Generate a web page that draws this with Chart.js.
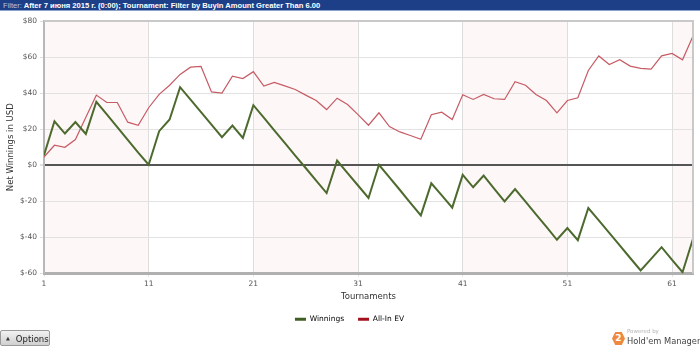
<!DOCTYPE html>
<html>
<head>
<meta charset="utf-8">
<script src="https://cdn.jsdelivr.net/npm/chart.js@4.4.0/dist/chart.umd.min.js"></script>
<style>
	html, body { margin: 0; padding: 0; background: #fff; }
	body { width: 700px; height: 347px; position: relative; overflow: hidden; font-family: "DejaVu Sans", Verdana, sans-serif; }
	#filterbar {
		position: absolute; left: 0; top: 0; width: 700px; height: 11px;
		background: #1c3f88; border-bottom: 1px solid #8ea3cc;
		color: #fff; font: bold 7.6px/11px "Liberation Sans Narrow", "Liberation Sans", sans-serif; white-space: nowrap;
		padding-left: 3px; box-sizing: border-box; z-index: 2;
	}
	#filterbar span { color: #b9c6e2; font-weight: normal; }
	#chartbox { position: absolute; left: 0; top: 0; width: 700px; height: 347px; }
	#options {
		position: absolute; left: 0; top: 330px; width: 50px; height: 16px;
		box-sizing: border-box; border: 1px solid #9a9a9a; border-radius: 2px;
		background: linear-gradient(#f2f2f2, #cfcfcf);
		font-size: 8.5px; line-height: 14px; color: #222; padding-left: 5px;
	}
	#options b { font-size: 5px; vertical-align: 2px; margin-right: 6px; color: #333; }
	#hm { position: absolute; left: 612px; top: 328px; width: 88px; height: 19px; }
	#hm .hex {
		position: absolute; left: 0; top: 4px; width: 13px; height: 13px;
		background: #ee8a3f; color: #fff; font: bold 9px/13px "DejaVu Sans", sans-serif; text-align: center;
		clip-path: polygon(25% 0, 75% 0, 100% 50%, 75% 100%, 25% 100%, 0 50%);
	}
	#hm .pw { position: absolute; left: 15px; top: 0; font-size: 5.5px; color: #b5b5b5; }
	#hm .nm { position: absolute; left: 15px; top: 8px; font-size: 8.3px; color: #444; white-space: nowrap; }
</style>
</head>
<body>
<div id="filterbar"><span>Filter:</span> After 7 июня 2015 г. (0:00); Tournament: Filter by Buyin Amount Greater Than 6.00</div>
<div id="chartbox"><canvas id="NetChart" width="700" height="347"></canvas></div>
<div id="options"><b>&#9650;</b>Options</div>
<div id="hm"><div class="hex">2</div><div class="pw">Powered by</div><div class="nm">Hold'em Manager</div></div>

<script>

// tournament numbers along the x axis
const tournaments = Array.from({ length: 63 }, (_, i) => i + 1);
const xTicks = [1, 11, 21, 31, 41, 51, 61];
const yTicks = [-60, -40, -20, 0, 20, 40, 60, 80];

// net winnings in USD after each tournament
const winnings = [
	5.6, 24.4, 17.6, 24.0, 17.4, 35.2, 28.2, 21.2, 14.1, 7.0,
	0.3, 18.9, 25.4, 43.3, 36.4, 29.5, 22.5, 15.6, 22.0, 15.2,
	33.3, 26.4, 19.4, 12.4, 5.4, -1.5, -8.5, -15.4, 2.6, -4.3,
	-11.2, -18.1, 0.3, -6.7, -13.7, -20.8, -27.8, -10.0, -16.7, -23.5,
	-5.3, -12.2, -5.7, -12.9, -20.0, -13.2, -20.2, -27.2, -34.2, -41.3,
	-34.8, -41.5, -23.7, -30.6, -37.5, -44.4, -51.4, -58.3, -51.9, -45.4,
	-52.4, -59.3, -40.7
];

// all-in expected value in USD
const allInEV = [
	4.6, 11.1, 10.0, 14.3, 26.7, 38.9, 34.8, 34.8, 23.9, 22.2,
	31.9, 39.3, 44.4, 50.4, 54.4, 54.8, 40.7, 40.0, 49.4, 48.1,
	51.9, 43.9, 45.9, 44.0, 42.0, 38.9, 35.9, 30.9, 37.2, 33.7,
	28.1, 22.2, 29.1, 21.5, 18.5, 16.5, 14.4, 28.0, 29.4, 25.4,
	39.1, 36.5, 39.3, 36.9, 36.5, 46.3, 44.4, 39.3, 35.9, 29.1,
	35.9, 37.4, 52.6, 60.6, 55.9, 58.5, 55.0, 53.7, 53.3, 60.7,
	62.0, 58.5, 71.7
];

const AXIS_FONT = "'DejaVu Sans', Verdana, sans-serif";

// pale stripes behind every other block of ten tournaments
const bandPlugin = {
	id: "bands",
	beforeDraw(chart) {
		const { ctx, chartArea } = chart;
		const x = chart.scales.x;
		ctx.save();
		ctx.fillStyle = "#fdf7f7";
		for (const start of [1, 21, 41, 61]) {
			const left = x.getPixelForValue(start);
			const right = Math.min(x.getPixelForValue(start + 10), chartArea.right);
			ctx.fillRect(left, chartArea.top, right - left, chartArea.bottom - chartArea.top);
		}
		ctx.restore();
	},
	afterDraw(chart) {
		// light top/right edge of the plot frame
		const { ctx, chartArea } = chart;
		ctx.save();
		ctx.strokeStyle = "#c9c9c9";
		ctx.lineWidth = 2;
		ctx.beginPath();
		ctx.moveTo(chartArea.left, chartArea.top);
		ctx.lineTo(chartArea.right, chartArea.top);
		ctx.lineTo(chartArea.right, chartArea.bottom);
		ctx.stroke();
		ctx.restore();
	}
};

const legendColors = ["#3f5f22", "#a3121c"];

new Chart(document.getElementById("NetChart"), {
	type: "line",
	data: {
		labels: tournaments,
		datasets: [
			{
				label: "Winnings",
				data: winnings,
				borderColor: "#4d6a2e",
				backgroundColor: legendColors[0],
				borderWidth: 2,
				pointRadius: 0,
				tension: 0,
			},
			{
				label: "All-In EV",
				data: allInEV,
				borderColor: "#c65b64",
				backgroundColor: legendColors[1],
				borderWidth: 1.2,
				pointRadius: 0,
				tension: 0,
			},
		],
	},
	options: {
		responsive: false,
		animation: false,
		layout: { padding: { top: 21, right: 7, left: 6, bottom: 14 } },
		plugins: {
			tooltip: { enabled: false },
			legend: {
				position: "bottom",
				labels: {
					boxWidth: 11,
					boxHeight: 3,
					padding: 14,
					color: "#555",
					font: { family: AXIS_FONT, size: 7.5 },
					generateLabels(chart) {
						return chart.data.datasets.map((ds, i) => ({
							text: ds.label,
							fillStyle: legendColors[i],
							strokeStyle: legendColors[i],
							lineWidth: 0,
							datasetIndex: i,
						}));
					},
				},
			},
		},
		scales: {
			x: {
				type: "linear",
				min: 1,
				max: 63,
				afterBuildTicks(scale) {
					scale.ticks = xTicks.map((v) => ({ value: v }));
				},
				afterFit(scale) {
					scale.height = 28;
				},
				ticks: {
					color: "#555",
					padding: 3,
					font: { family: AXIS_FONT, size: 7.5 },
				},
				grid: { color: "#dedede", tickLength: 3, tickColor: "#dedede" },
				border: { color: "#b0b0b0", width: 3 },
				title: {
					display: true,
					text: "Tournaments",
					color: "#333",
					padding: { top: 2, bottom: 0 },
					font: { family: AXIS_FONT, size: 8.5 },
				},
			},
			y: {
				min: -60,
				max: 80,
				afterBuildTicks(scale) {
					scale.ticks = yTicks.map((v) => ({ value: v }));
				},
				afterFit(scale) {
					scale.width = 38;
				},
				ticks: {
					color: "#555",
					padding: 3,
					font: { family: AXIS_FONT, size: 7.5 },
					callback: (v) => "$" + v,
				},
				grid: {
					color: (c) => (c.tick && c.tick.value === 0 ? "#555" : "#e2e2e2"),
					lineWidth: (c) => (c.tick && c.tick.value === 0 ? 2 : 1),
					tickLength: 4,
					tickColor: "#dedede",
				},
				border: { color: "#b8b8b8", width: 2 },
				title: {
					display: true,
					text: "Net Winnings in USD",
					color: "#333",
					padding: { top: 0, bottom: 2 },
					font: { family: AXIS_FONT, size: 8.5 },
				},
			},
		},
	},
	plugins: [bandPlugin],
});
</script>
</body>
</html>
